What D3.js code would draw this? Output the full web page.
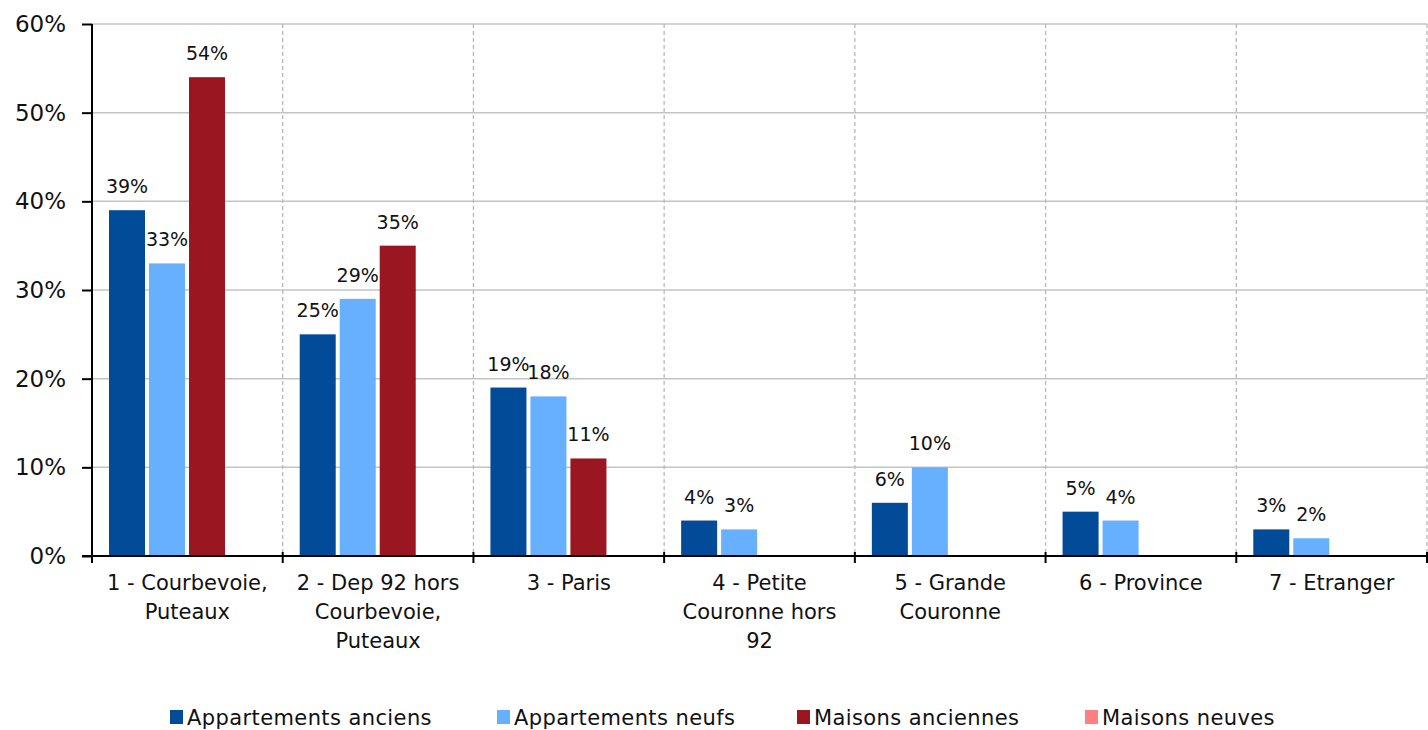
<!DOCTYPE html>
<html><head><meta charset="utf-8">
<script src="https://cdn.jsdelivr.net/npm/d3@7"></script>
<style>body{margin:0;background:#fff}svg{display:block}text{font-family:"DejaVu Sans",sans-serif;fill:#111}</style>
</head><body><svg id="c" width="1428" height="730"></svg>
<script>
const categories = [
  ["1 - Courbevoie,", "Puteaux"],
  ["2 - Dep 92 hors", "Courbevoie,", "Puteaux"],
  ["3 - Paris"],
  ["4 - Petite", "Couronne hors", "92"],
  ["5 - Grande", "Couronne"],
  ["6 - Province"],
  ["7 - Etranger"]
];
const seriesNames = ["Appartements anciens", "Appartements neufs", "Maisons anciennes", "Maisons neuves"];
const seriesColors = ["#024b98", "#66b0ff", "#9a1620", "#ff8080"];
const appartementsAnciens = [39, 25, 19, 4, 6, 5, 3];
const appartementsNeufs   = [33, 29, 18, 3, 10, 4, 2];
const maisonsAnciennes    = [54, 35, 11, null, null, null, null];
const maisonsNeuves       = [null, null, null, null, null, null, null];
const yTicks = [0, 10, 20, 30, 40, 50, 60];

const seriesValues = [appartementsAnciens, appartementsNeufs, maisonsAnciennes, maisonsNeuves];
const svg = d3.select("#c");
const L = 92, R = 1427, T = 24, B = 556;
const catIdx = categories.map((d, i) => i);
const x0 = d3.scaleBand().domain(catIdx).range([L, R]);
const x1 = d3.scaleBand().domain(d3.range(4)).range([17, 173]).paddingInner(0.1);
const y = d3.scaleLinear().domain([0, 60]).range([B, T]);

// horizontal gridlines
svg.append("g").selectAll("line").data(yTicks.filter(v => v > 0)).join("line")
  .attr("x1", L).attr("x2", R).attr("y1", d => y(d)).attr("y2", d => y(d))
  .attr("stroke", "#c4c4c4").attr("stroke-width", 1.5);
// vertical dashed gridlines
svg.append("g").selectAll("line").data(catIdx).join("line")
  .attr("x1", d => x0(d) + x0.bandwidth()).attr("x2", d => x0(d) + x0.bandwidth())
  .attr("y1", T).attr("y2", B)
  .attr("stroke", "#b8b8b8").attr("stroke-width", 1.3).attr("stroke-dasharray", "4,3");

// bars
const flat = [];
seriesValues.forEach((arr, s) => arr.forEach((v, c) => { if (v != null) flat.push({s, c, v}); }));
svg.append("g").selectAll("rect").data(flat).join("rect")
  .attr("x", d => x0(d.c) + x1(d.s)).attr("width", x1.bandwidth())
  .attr("y", d => y(d.v)).attr("height", d => y(0) - y(d.v))
  .attr("fill", d => seriesColors[d.s]);

// data labels
svg.append("g").selectAll("text").data(flat).join("text")
  .attr("x", d => x0(d.c) + x1(d.s) + x1.bandwidth() / 2)
  .attr("y", d => y(d.v) - 17)
  .attr("text-anchor", "middle").attr("font-size", 19)
  .text(d => d.v + "%");

// y axis
const yAxis = svg.append("g").attr("transform", `translate(${L},0)`)
  .call(d3.axisLeft(y).tickValues(yTicks).tickFormat(d => d + "%").tickSize(10).tickPadding(16));
yAxis.select(".domain").attr("stroke", "#000").attr("stroke-width", 2).attr("d", `M0,${T}V${B}`);
yAxis.selectAll(".tick line").attr("stroke", "#000").attr("stroke-width", 2);
yAxis.selectAll(".tick text").attr("font-size", 23).attr("font-family", "DejaVu Sans").attr("fill", "#111");

// x axis
svg.append("line").attr("x1", L - 10).attr("x2", R).attr("y1", B).attr("y2", B).attr("stroke", "#000").attr("stroke-width", 2);
svg.append("g").selectAll("line").data(catIdx).join("line")
  .attr("x1", d => x0(d) + x0.bandwidth()).attr("x2", d => x0(d) + x0.bandwidth())
  .attr("y1", B - 4).attr("y2", B + 7).attr("stroke", "#000").attr("stroke-width", 2);
svg.append("line").attr("x1", L).attr("x2", L).attr("y1", B).attr("y2", B + 7).attr("stroke", "#000").attr("stroke-width", 2);

const cl = svg.append("g").selectAll("text").data(catIdx).join("text")
  .attr("x", d => x0(d) + x0.bandwidth() / 2).attr("y", 590)
  .attr("text-anchor", "middle").attr("font-size", 21);
cl.selectAll("tspan").data(d => categories[d]).join("tspan")
  .attr("x", function() { return d3.select(this.parentNode).attr("x"); })
  .attr("dy", (d, i) => i === 0 ? 0 : 29).text(d => d);

// legend
const legX = [170, 497, 797, 1085];
const lg = svg.append("g").selectAll("g").data(seriesNames).join("g")
  .attr("transform", (d, i) => `translate(${legX[i]},710)`);
lg.append("rect").attr("width", 13).attr("height", 14).attr("fill", (d, i) => seriesColors[i]);
lg.append("text").attr("x", 17).attr("y", 15).attr("font-size", 21).attr("letter-spacing", 0.4).text(d => d);
</script></body></html>
